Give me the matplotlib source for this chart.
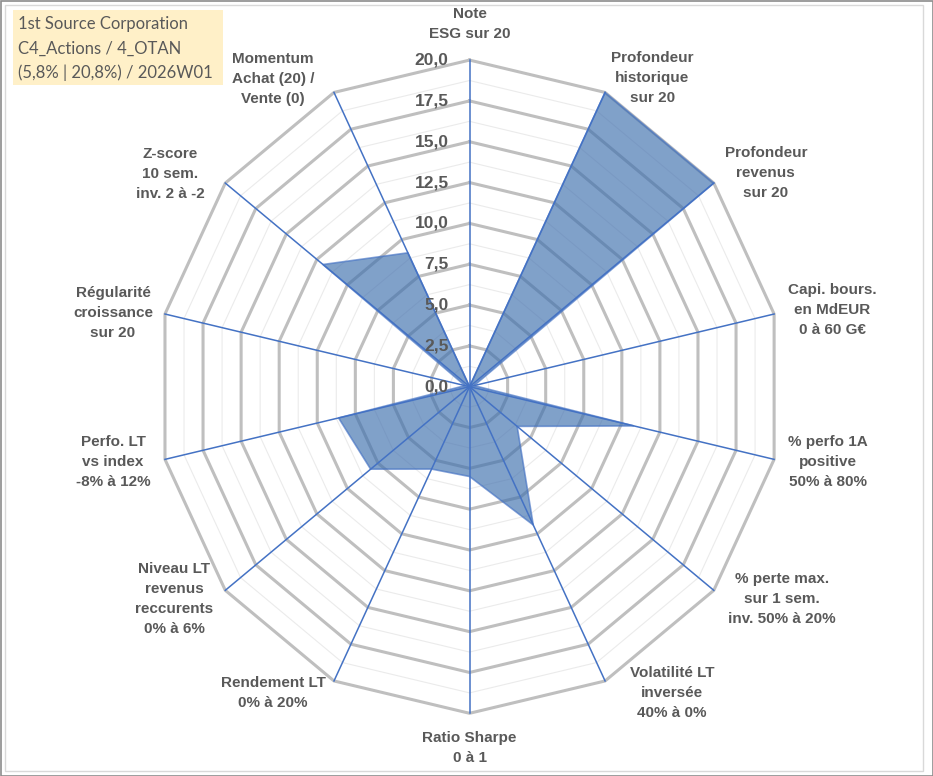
import numpy as np
import matplotlib
matplotlib.use("Agg")
from matplotlib import pyplot as plt
from matplotlib.patches import Rectangle

# data (scale 0..20 on every axis)
axis_labels = [
    "Note\nESG sur 20",
    "Profondeur\nhistorique\nsur 20",
    "Profondeur\nrevenus\nsur 20",
    "Capi. bours.\nen MdEUR\n0 à 60 G€",
    "% perfo 1A\npositive\n50% à 80%",
    "% perte max.\nsur 1 sem.\ninv. 50% à 20%",
    "Volatilité LT\ninversée\n40% à 0%",
    "Ratio Sharpe\n0 à 1",
    "Rendement LT\n0% à 20%",
    "Niveau LT\nrevenus\nreccurents\n0% à 6%",
    "Perfo. LT\nvs index\n-8% à 12%",
    "Régularité\ncroissance\nsur 20",
    "Z-score\n10 sem.\ninv. 2 à -2",
    "Momentum\nAchat (20) /\nVente (0)",
]
scores = [0.0, 20.0, 20.0, 0.3, 10.8, 3.9, 9.4, 5.5, 5.6, 8.1, 8.6, 0.3, 12.0, 9.1]
tick_values = [0, 2.5, 5, 7.5, 10, 12.5, 15, 17.5, 20]
title_lines = ["1st Source Corporation", "C4_Actions / 4_OTAN", "(5,8% | 20,8%) / 2026W01"]

# label offsets from each outer vertex, in pixels (layout only)
label_offsets = [(0, 36), (47, 14), (52, 10), (58, 4), (54, -3), (68, -9), (67, -12),
                 (0, -35), (-61, -12), (-51, -9), (-52, -3), (-52, 1), (-55, 9), (-61, 13)]

grey_txt = "#595959"
blue = "#4472C4"

n = len(axis_labels)
theta = np.arange(n) * 2 * np.pi / n
rmax = 20


def to_xy(r, t):
    return r * np.sin(t), r * np.cos(t)


fig = plt.figure(figsize=(9.33, 7.76), dpi=100)
ax = fig.add_axes([0, 0, 1, 1])
ax.set_xlim(-30.06, 29.67)
ax.set_ylim(-23.84, 23.68)
ax.axis("off")

# rings: minor and major
tt = np.append(theta, theta[0])
for lev in np.arange(1.25, rmax, 2.5):
    x, y = to_xy(lev, tt)
    ax.plot(x, y, color="#EBEBEB", lw=0.8, zorder=1)
for lev in tick_values[1:]:
    x, y = to_xy(lev, tt)
    ax.plot(x, y, color="#BFBFBF", lw=2.2, zorder=2, solid_joinstyle="miter")

# filled series
vals = np.array(scores + scores[:1])
x, y = to_xy(vals, tt)
ax.fill(x, y, facecolor="#3F70AE", alpha=0.66, edgecolor=blue, lw=1.2, zorder=3)

# spokes on top
for t in theta:
    x, y = to_xy(np.array([0, rmax]), t)
    ax.plot(x, y, color=blue, lw=1.1, zorder=4)

# radial ticks
for v in tick_values:
    ax.annotate(f"{v:.1f}".replace(".", ","), xy=(0, v), xytext=(-21, 0),
                textcoords="offset pixels", ha="right", va="center",
                fontsize=12.5, fontweight="bold", color=grey_txt,
                family="Liberation Sans", zorder=5)

# axis labels
for lab, t, off in zip(axis_labels, theta, label_offsets):
    ax.annotate(lab, xy=to_xy(rmax, t), xytext=off, textcoords="offset pixels",
                ha="center", va="center", multialignment="center",
                fontsize=11, fontweight="bold", color=grey_txt,
                family="Liberation Sans", linespacing=1.55, zorder=5)

# title box
fig.patches.append(Rectangle((13 / 933, 1 - 85 / 776), 210 / 933, 75 / 776,
                             transform=fig.transFigure, facecolor="#FFF0C8",
                             edgecolor="none", zorder=0))
for i, line in enumerate(title_lines):
    fig.text(18 / 933, 1 - (24 + i * 24.5) / 776, line, ha="left", va="center",
             fontsize=12, color=grey_txt, family="Lato")

# frames
fig.patches.append(Rectangle((0.5 / 933, 0.5 / 776), 932 / 933, 775 / 776,
                             transform=fig.transFigure, fill=False,
                             edgecolor="#8C8C8C", lw=1.2))
fig.patches.append(Rectangle((5 / 933, 5 / 776), 918 / 933, 766 / 776,
                             transform=fig.transFigure, fill=False,
                             edgecolor="#D9D9D9", lw=1.0))

fig.savefig("out.png", dpi=100)
